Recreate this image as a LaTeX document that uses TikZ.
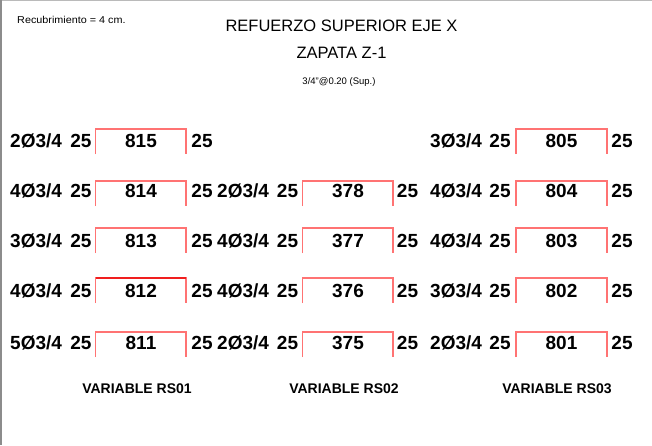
\documentclass[tikz,border=0pt]{standalone}
\usepackage{fontspec}
\setmainfont{Liberation Sans}
\definecolor{barred}{RGB}{255,115,115}
\definecolor{barreddark}{RGB}{240,30,30}
\definecolor{framegray}{RGB}{140,140,140}
\begin{document}
\begin{tikzpicture}[x=1pt,y=-1pt,
  rowtxt/.style={font=\fontsize{19}{19}\selectfont\bfseries, inner sep=0pt, anchor=base},
  rowlab/.style={rowtxt, anchor=base west},
  numtxt/.style={rowtxt},
  bar/.style={draw=barred, line width=1.1pt},
  titletxt/.style={font=\fontsize{16.5}{16.5}\selectfont, inner sep=0pt, anchor=base},
  smalltxt/.style={font=\fontsize{9.5}{9.5}\selectfont, inner sep=0pt, anchor=base},
  vartxt/.style={font=\fontsize{14}{14}\selectfont\bfseries, inner sep=0pt, anchor=base}]
\useasboundingbox (0,0) rectangle (652,445);
\fill[white] (0,0) rectangle (652,445);
\draw[framegray!60, line width=0.8pt] (0,0.4) -- (652,0.4);
\fill[framegray] (0,0) rectangle (2.2,445);

% header
\node[smalltxt, anchor=base west, font=\fontsize{10}{10}\selectfont, xscale=1.08] (recub) at (17,23.2) {Recubrimiento = 4 cm.};
\node[titletxt] (title) at (341.5,31.4) {REFUERZO SUPERIOR EJE X};
\node[titletxt] (zapata) at (341.5,58.9) {ZAPATA Z-1};
\node[smalltxt] (spec) at (339,84.4) {3/4"@0.20 (Sup.)};

% rows: center y, bar top
\def\rowdata{1/141/129, 2/191/181, 3/240.5/228, 4/291/278, 5/342.5/332}

% column 1
\foreach \r/\lab/\num in {1/2Ø3\slash 4/815, 2/4Ø3\slash 4/814, 3/3Ø3\slash 4/813, 4/4Ø3\slash 4/812, 5/5Ø3\slash 4/811}{
  \foreach \rr/\cy/\top in \rowdata {
    \ifnum\rr=\r
      \node[rowlab] (lab-1-\r) at (10,\cy+6.8) {\lab};
      \node[rowtxt] (la-1-\r) at (81,\cy+6.8) {25};
      \node[numtxt] (num-1-\r) at (141,\cy+6.8) {\num};
      \node[rowtxt] (ra-1-\r) at (202,\cy+6.8) {25};
      \coordinate (bl-1-\r) at (95.5,\top+25);
      \coordinate (tl-1-\r) at (95.5,\top);
      \coordinate (tr-1-\r) at (186,\top);
      \coordinate (br-1-\r) at (186,\top+25);
      \draw[bar] (bl-1-\r) -- (tl-1-\r) -- (tr-1-\r) -- (br-1-\r);
    \fi
  }
}
% column 2
\foreach \r/\lab/\num in {2/2Ø3\slash 4/378, 3/4Ø3\slash 4/377, 4/4Ø3\slash 4/376, 5/2Ø3\slash 4/375}{
  \foreach \rr/\cy/\top in \rowdata {
    \ifnum\rr=\r
      \node[rowlab] (lab-2-\r) at (217,\cy+6.8) {\lab};
      \node[rowtxt] (la-2-\r) at (287.5,\cy+6.8) {25};
      \node[numtxt] (num-2-\r) at (348,\cy+6.8) {\num};
      \node[rowtxt] (ra-2-\r) at (407.5,\cy+6.8) {25};
      \coordinate (bl-2-\r) at (302.5,\top+25);
      \coordinate (tl-2-\r) at (302.5,\top);
      \coordinate (tr-2-\r) at (393,\top);
      \coordinate (br-2-\r) at (393,\top+25);
      \draw[bar] (bl-2-\r) -- (tl-2-\r) -- (tr-2-\r) -- (br-2-\r);
    \fi
  }
}
% column 3
\foreach \r/\lab/\num in {1/3Ø3\slash 4/805, 2/4Ø3\slash 4/804, 3/4Ø3\slash 4/803, 4/3Ø3\slash 4/802, 5/2Ø3\slash 4/801}{
  \foreach \rr/\cy/\top in \rowdata {
    \ifnum\rr=\r
      \node[rowlab] (lab-3-\r) at (430,\cy+6.8) {\lab};
      \node[rowtxt] (la-3-\r) at (500,\cy+6.8) {25};
      \node[numtxt] (num-3-\r) at (561.5,\cy+6.8) {\num};
      \node[rowtxt] (ra-3-\r) at (622,\cy+6.8) {25};
      \coordinate (bl-3-\r) at (516,\top+25);
      \coordinate (tl-3-\r) at (516,\top);
      \coordinate (tr-3-\r) at (607,\top);
      \coordinate (br-3-\r) at (607,\top+25);
      \draw[bar] (bl-3-\r) -- (tl-3-\r) -- (tr-3-\r) -- (br-3-\r);
    \fi
  }
}
% brighter top line on bar 812
\draw[draw=barreddark, line width=1.1pt] (tl-1-4) -- (tr-1-4);

% footers
\node[vartxt] (var1) at (137,393) {VARIABLE RS01};
\node[vartxt] (var2) at (344,393) {VARIABLE RS02};
\node[vartxt] (var3) at (557,393) {VARIABLE RS03};
\end{tikzpicture}
\end{document}
